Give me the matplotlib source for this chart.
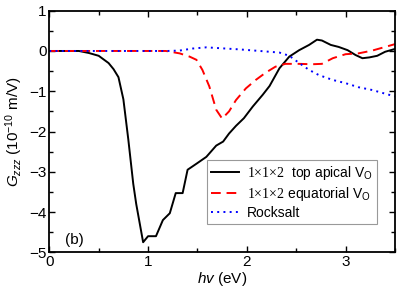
import matplotlib
matplotlib.use("Agg")
import matplotlib.pyplot as plt
from matplotlib.ticker import MultipleLocator

plt.rcParams['font.family'] = ['Liberation Sans', 'DejaVu Sans']
plt.rcParams['mathtext.fontset'] = 'custom'
plt.rcParams['mathtext.rm'] = 'Liberation Serif'
plt.rcParams['mathtext.it'] = 'Liberation Sans:italic'
plt.rcParams['mathtext.sf'] = 'Liberation Sans'

apical_x = [0, 0.3, 0.4, 0.5, 0.6, 0.65, 0.7, 0.75, 0.8, 0.85, 0.88, 0.95, 1.0, 1.08,
            1.15, 1.22, 1.28, 1.35, 1.40, 1.49, 1.59, 1.69, 1.76, 1.82, 1.89, 1.97,
            2.06, 2.16, 2.23, 2.33, 2.43, 2.53, 2.63, 2.71, 2.76, 2.85, 2.93, 3.02,
            3.10, 3.17, 3.24, 3.32, 3.40, 3.5]
apical_y = [0, 0, -0.05, -0.12, -0.3, -0.45, -0.65, -1.2, -2.2, -3.3, -3.8, -4.75, -4.6, -4.6,
            -4.2, -4.03, -3.53, -3.53, -2.95, -2.8, -2.63, -2.35, -2.25, -2.05, -1.86, -1.67,
            -1.38, -1.09, -0.87, -0.43, -0.14, 0.02, 0.15, 0.28, 0.26, 0.15, 0.1, 0.02,
            -0.1, -0.18, -0.16, -0.12, -0.02, 0.05]

equat_x = [0, 1.18, 1.32, 1.42, 1.49, 1.55, 1.62, 1.69, 1.75, 1.82, 1.89, 1.99, 2.09, 2.19,
           2.29, 2.39, 2.53, 2.66, 2.76, 2.87, 3.0, 3.13, 3.27, 3.40, 3.5]
equat_y = [0, 0, -0.06, -0.14, -0.22, -0.47, -0.88, -1.46, -1.68, -1.5, -1.22, -0.93, -0.72, -0.54,
           -0.39, -0.32, -0.32, -0.33, -0.32, -0.18, -0.08, -0.06, 0.01, 0.1, 0.17]

rock_x = [0, 1.2, 1.32, 1.45, 1.59, 1.72, 1.92, 2.13, 2.33, 2.43, 2.53, 2.63, 2.73, 2.87,
          3.0, 3.13, 3.27, 3.5]
rock_y = [0, 0, 0.01, 0.06, 0.09, 0.07, 0.04, 0, -0.04, -0.12, -0.3, -0.47, -0.6, -0.72,
          -0.8, -0.9, -0.97, -1.13]

labels = [r"$\mathrm{1{\times}1{\times}2}$  top apical V$_{\mathsf{O}}$",
          r"$\mathrm{1{\times}1{\times}2}$ equatorial V$_{\mathsf{O}}$",
          "Rocksalt"]

fig = plt.figure(figsize=(4.07, 3.05), dpi=100)
ax = fig.add_axes([49.3/407, 1 - 252.3/305, (395 - 49.3)/407, (252.3 - 10.7)/305])

ax.plot(apical_x, apical_y, color='black', lw=1.4, label=labels[0])
ax.plot(equat_x, equat_y, color='red', lw=1.4, ls=(0, (5, 3)), label=labels[1])
ax.plot(rock_x, rock_y, color='blue', lw=1.4, ls=(0, (1, 2.2)), label=labels[2])

ax.set_xlim(0, 3.5)
ax.set_ylim(-5, 1)
ax.xaxis.set_major_locator(MultipleLocator(1))
ax.xaxis.set_minor_locator(MultipleLocator(0.5))
ax.yaxis.set_major_locator(MultipleLocator(1))
ax.yaxis.set_minor_locator(MultipleLocator(0.5))
ax.tick_params(which='both', direction='in', top=True, right=True, labelsize=11, width=1.0)
ax.tick_params(which='major', length=4.5, pad=2)
ax.tick_params(which='minor', length=3)
for s in ax.spines.values():
    s.set_linewidth(1.3)

ax.set_xlabel(r"$hv$ (eV)", fontsize=11, labelpad=1)
ax.set_ylabel(r"$G_{zzz}$ (10$^{\mathsf{-10}}$ m/V)", fontsize=11, labelpad=3)

ax.text(0.16, -4.7, "(b)", fontsize=11, ha='left', va='center')

leg = ax.legend(loc='lower right', bbox_to_anchor=(0.948, 0.117), fontsize=10,
                frameon=True, fancybox=False, edgecolor='gray', handlelength=2.0,
                borderpad=0.3, labelspacing=0.2, handletextpad=0.6, borderaxespad=0)
leg.get_frame().set_linewidth(0.8)

fig.savefig("out.png", dpi=100)
